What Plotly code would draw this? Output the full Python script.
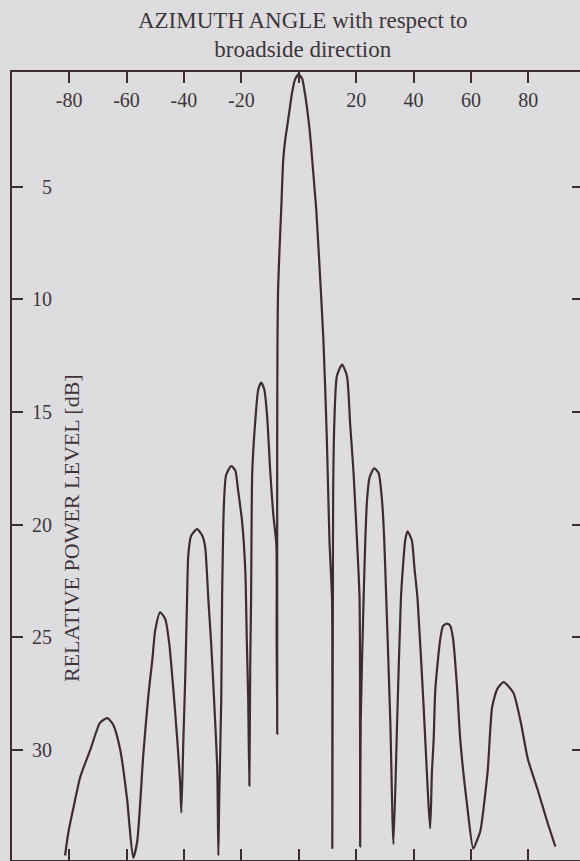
import plotly.graph_objects as go

# Measured azimuth pattern: angle (deg) vs. relative power level below peak (dB)
angle_deg = [
    -81.4, -80.3, -78.2, -76.1, -72.6, -69.2, -66.7, -64.6, -62.2, -59.8, -57.7,
    -56.3, -54.2, -52.4, -51.0, -50.0, -48.3, -46.5, -45.1, -43.7, -42.3, -41.3, -40.9,
    -40.2, -39.5, -38.9, -38.5, -37.5, -35.4, -33.6, -32.6, -31.5, -30.5, -29.8, -28.4, -28.0,
    -27.7, -27.0, -26.7, -26.5, -26.1, -25.3, -23.5, -22.1, -21.1, -19.7, -18.6, -18.1, -17.6, -17.2,
    -16.9, -16.6, -16.2, -15.2, -14.1, -13.1, -12.0, -11.0, -9.9, -8.9, -7.8, -7.7, -7.5,
    -7.5, -7.5, -7.4, -7.2, -6.7, -6.1, -5.4, -4.7, -4.0, -3.1, -2.3, -1.2, 0.0,
    1.2, 2.1, 3.0, 3.9, 4.7, 5.4, 6.1, 7.1,
    8.6, 9.8, 10.7, 11.6, 11.7, 11.7,
    11.8, 11.9, 12.0, 12.4, 13.3, 15.1, 16.8, 17.9, 19.1, 20.3, 21.2, 21.4,
    21.6, 22.6, 23.2, 23.8, 24.7, 26.3, 27.8, 29.0, 29.8, 30.5, 31.9, 33.0,
    34.3, 35.6, 36.3, 37.1, 37.9, 39.4, 40.3, 41.4, 43.4, 45.8,
    46.4, 47.0, 47.6, 49.3, 50.3, 51.7, 52.8, 53.8, 55.2, 56.3, 58.7, 60.8,
    62.2, 63.3, 65.8, 67.4, 69.2, 71.4, 73.2, 74.9, 77.4, 79.8, 83.3, 86.6, 89.4,
]
level_db = [
    34.7, 33.7, 32.4, 31.2, 30.0, 28.8, 28.6, 28.9, 30.0, 32.2, 34.8,
    34.1, 30.3, 27.6, 26.0, 24.7, 23.9, 24.2, 25.3, 27.3, 29.6, 31.5, 32.8,
    29.6, 26.6, 23.3, 21.4, 20.5, 20.2, 20.5, 21.0, 23.3, 25.3, 27.0, 30.8, 34.7,
    32.2, 27.8, 23.3, 21.6, 19.2, 17.8, 17.4, 17.6, 18.5, 19.9, 22.1, 25.1, 27.8, 31.6,
    26.3, 23.3, 17.7, 15.5, 14.0, 13.7, 14.0, 15.2, 17.7, 19.5, 20.9, 25.1, 29.3,
    23.3, 16.2, 11.8, 9.6, 7.8, 6.0, 3.8, 2.9, 2.3, 1.5, 0.8, 0.2, 0.0,
    0.2, 0.8, 1.6, 2.6, 3.8, 4.9, 6.0, 8.2,
    11.8, 16.2, 20.7, 23.3, 28.7, 34.4,
    28.7, 23.3, 18.5, 15.5, 13.4, 12.9, 13.4, 15.5, 17.7, 20.7, 23.3, 34.3,
    28.7, 23.3, 20.7, 18.9, 17.9, 17.5, 17.7, 18.9, 20.7, 23.3, 28.7, 34.2,
    28.7, 23.3, 21.9, 20.7, 20.3, 20.7, 21.9, 23.3, 27.8, 33.5,
    31.0, 29.6, 27.3, 25.1, 24.5, 24.4, 24.5, 25.1, 27.3, 29.6, 32.5, 34.4,
    34.0, 33.6, 31.0, 28.1, 27.3, 27.0, 27.2, 27.5, 28.8, 30.4, 31.8, 33.2, 34.3,
]

x_tick_vals = [-80, -60, -40, -20, 0, 20, 40, 60, 80]
x_tick_text = ["-80", "-60", "-40", "-20", "", "20", "40", "60", "80"]
y_tick_vals = [5, 10, 15, 20, 25, 30]
y_tick_text = ["5", "10", "15", "20", "25", "30"]

PAPER = "#dddde0"
INK = "#3e2c33"
TEXT = "#3f3539"
FONT = "Liberation Serif"

fig = go.Figure()
fig.add_trace(go.Scatter(
    x=angle_deg, y=level_db, mode="lines",
    line=dict(color=INK, width=2.2, shape="spline", smoothing=0.6),
    hoverinfo="skip", showlegend=False,
))
# empty traces so the extra y axes (labels on the left, ticks on the right) are drawn
fig.add_trace(go.Scatter(x=[], y=[], yaxis="y2", showlegend=False, hoverinfo="skip"))
fig.add_trace(go.Scatter(x=[], y=[], yaxis="y3", showlegend=False, hoverinfo="skip"))

fig.update_layout(
    width=580, height=861,
    margin=dict(l=12, r=0, t=72, b=1),
    paper_bgcolor=PAPER, plot_bgcolor=PAPER,
    font=dict(family=FONT, color=TEXT),
    title=dict(
        text="AZIMUTH ANGLE with respect to<br>broadside direction",
        x=0.522, xref="container", xanchor="center",
        y=0.968, yref="container", yanchor="top",
        font=dict(family=FONT, size=23, color=TEXT),
    ),
    xaxis=dict(
        side="top", range=[-99.9, 98.0],
        tickvals=x_tick_vals, ticktext=x_tick_text,
        ticks="inside", ticklen=11, tickwidth=1.5, tickcolor=INK,
        ticklabelposition="inside", ticklabelstandoff=11,
        showline=True, linecolor=INK, linewidth=2, mirror="ticks",
        showgrid=False, zeroline=False,
        tickfont=dict(family=FONT, size=20, color=TEXT),
    ),
    yaxis=dict(
        range=[34.9, -0.1], tickvals=y_tick_vals,
        ticks="inside", ticklen=11, tickwidth=1.5, tickcolor=INK,
        showticklabels=False,
        showline=True, linecolor=INK, linewidth=2,
        showgrid=False, zeroline=False,
    ),
    yaxis2=dict(
        overlaying="y", matches="y", anchor="free", position=0.0704, side="left",
        tickvals=y_tick_vals, ticktext=y_tick_text, ticks="",
        showline=False, showgrid=False, zeroline=False,
        tickfont=dict(family=FONT, size=20, color=TEXT),
    ),
    yaxis3=dict(
        overlaying="y", matches="y", anchor="x", side="right",
        tickvals=y_tick_vals, ticks="inside", ticklen=8, tickwidth=1.5, tickcolor=INK,
        showticklabels=False, showline=False, showgrid=False, zeroline=False,
    ),
    annotations=[dict(
        text="RELATIVE POWER LEVEL [dB]", textangle=-90,
        xref="paper", yref="paper", x=0.104, y=0.4213,
        xanchor="center", yanchor="middle", showarrow=False,
        font=dict(family=FONT, size=22, color=TEXT),
    )],
)

fig.write_html("out.html")
